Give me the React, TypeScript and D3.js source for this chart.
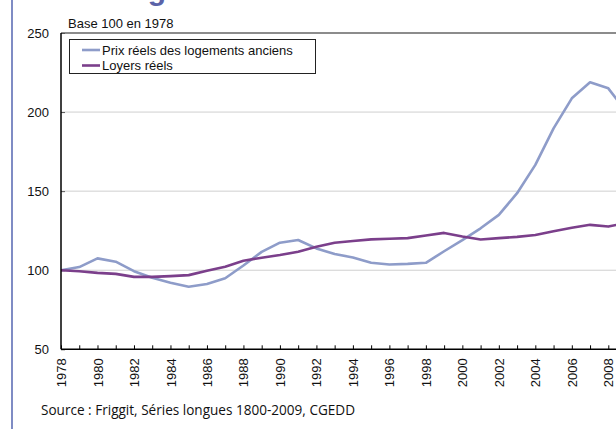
import * as d3 from "d3";
import { useEffect, useRef } from "react";

const years = [
  1978, 1979, 1980, 1981, 1982, 1983, 1984, 1985, 1986, 1987, 1988, 1989, 1990,
  1991, 1992, 1993, 1994, 1995, 1996, 1997, 1998, 1999, 2000, 2001, 2002, 2003,
  2004, 2005, 2006, 2007, 2008, 2009,
];
// Prix réels des logements anciens
const prix = [
  100, 102, 107.5, 105.4, 99.4, 95.2, 92.1, 89.6, 91.3, 94.9, 103, 111.6, 117.4,
  119.1, 113.8, 110.2, 108.1, 104.7, 103.6, 104, 104.7, 112, 119, 126.5, 135,
  148.7, 166.6, 189.7, 208.7, 218.8, 215, 200,
];
// Loyers réels
const loyers = [
  100, 99.4, 98.3, 97.7, 95.8, 95.8, 96.3, 96.9, 99.6, 102.2, 106, 107.9, 109.6,
  111.7, 114.9, 117.4, 118.5, 119.5, 119.9, 120.3, 122, 123.6, 121.3, 119.4,
  120.3, 121.1, 122.3, 124.7, 126.8, 128.7, 127.6, 130,
];
const yTicks = [50, 100, 150, 200, 250];
const gridTicks = [100, 150, 200];
const series = [
  { name: "Prix réels des logements anciens", values: prix, color: "#8e9cc9" },
  { name: "Loyers réels", values: loyers, color: "#7b3f8b" },
];

const W = 616;
const H = 429;
const FONT = "'Liberation Sans', Arial, sans-serif";

export default function App() {
  const gx = useRef<SVGGElement>(null);
  const gy = useRef<SVGGElement>(null);

  const x = d3.scaleLinear().domain([1978, 2008]).range([61, 608.3]);
  const y = d3.scaleLinear().domain([50, 250]).range([349.3, 33]);
  const right = 660;

  const line = d3
    .line<number>()
    .x((_, i) => x(years[i]))
    .y((d) => y(d));

  useEffect(() => {
    const ax = d3
      .axisBottom(x)
      .tickValues(years)
      .tickSize(-4)
      .tickSizeOuter(0)
      .tickFormat((d) => (+d % 2 === 0 ? String(d) : ""));
    const g = d3.select(gx.current!).call(ax);
    g.select(".domain").remove();
    g.selectAll(".tick line").attr("stroke", "#000");
    g.selectAll(".tick text")
      .attr("transform", "rotate(-90)")
      .attr("text-anchor", "end")
      .attr("x", -9)
      .attr("y", 0)
      .attr("dy", "0.35em")
      .attr("font-size", 13)
      .attr("font-family", FONT)
      .attr("fill", "#111");

    const ay = d3.axisLeft(y).tickValues(yTicks).tickSize(-4).tickPadding(12);
    const gl = d3.select(gy.current!).call(ay);
    gl.select(".domain").remove();
    gl.selectAll(".tick line").attr("stroke", "#555");
    gl.selectAll(".tick text")
      .attr("font-size", 13)
      .attr("font-family", FONT)
      .attr("fill", "#111");
  }, []);

  return (
    <svg
      width={W}
      height={H}
      style={{ position: "absolute", left: 0, top: 0, background: "#fff" }}
    >
      <rect width={W} height={H} fill="#fff" />
      {/* title, cut off above: only the descender shows */}
      <text
        x={111}
        y={-0.5}
        fontSize={30}
        fontWeight="bold"
        fill="#5b63a8"
        fontFamily={FONT}
      >
        Logements
      </text>
      <line x1={12} x2={12} y1={0} y2={H} stroke="#7f8cc4" strokeWidth={2} />

      <text x={68} y={28} fontSize={13} fontFamily={FONT} fill="#111">
        Base 100 en 1978
      </text>

      {gridTicks.map((t) => (
        <line
          key={t}
          x1={61}
          x2={right}
          y1={y(t)}
          y2={y(t)}
          stroke="#cfcfcf"
          strokeWidth={1}
        />
      ))}
      <line x1={61} x2={right} y1={y(250)} y2={y(250)} stroke="#666" strokeWidth={1.5} />

      <g ref={gy} transform="translate(61,0)" />
      <g ref={gx} transform={`translate(0,${y(50)})`} />

      {series.map((s) => (
        <path
          key={s.name}
          d={line(s.values) ?? ""}
          fill="none"
          stroke={s.color}
          strokeWidth={2.6}
          strokeLinejoin="round"
        />
      ))}

      <line x1={61} x2={61} y1={y(250)} y2={y(50)} stroke="#000" strokeWidth={1.5} />
      <line x1={61} x2={right} y1={y(50)} y2={y(50)} stroke="#000" strokeWidth={1.5} />

      {/* legend */}
      <rect x={69.5} y={39.5} width={246} height={34} fill="#fff" stroke="#222" strokeWidth={1} />
      {series.map((s, i) => (
        <g key={s.name} transform={`translate(82,${50 + i * 15.5})`}>
          <line x1={0} x2={18} y1={0} y2={0} stroke={s.color} strokeWidth={2.6} />
          <text x={20} y={0} dy="0.36em" fontSize={13} fontFamily={FONT} fill="#111">
            {s.name}
          </text>
        </g>
      ))}

      <text
        x={41}
        y={415}
        fontSize={15}
        fontFamily="'Open Sans', sans-serif"
        fill="#111"
        textLength={314}
        lengthAdjust="spacingAndGlyphs"
      >
        Source : Friggit, Séries longues 1800-2009, CGEDD
      </text>
    </svg>
  );
}
